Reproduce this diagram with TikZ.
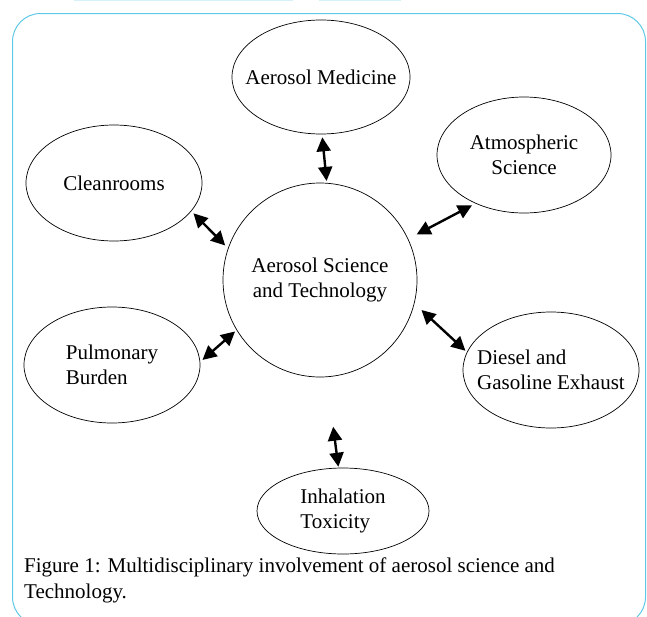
\documentclass[tikz,border=0pt]{standalone}
\usepackage{fontspec}
\setmainfont{Liberation Serif}
\usetikzlibrary{shapes.geometric,arrows.meta}
\definecolor{framec}{RGB}{95,200,230}
\begin{document}
\begin{tikzpicture}[x=1pt,y=-1pt,
  bub/.style={draw, ellipse, line width=0.7pt, inner xsep=-20pt, inner ysep=0pt, align=center,
    font=\fontsize{21}{25}\selectfont},
  dbl/.style={{Triangle[length=14pt,width=14pt]}-{Triangle[length=14pt,width=14pt]}, line width=2.4pt}]
\useasboundingbox (0,0) rectangle (647,616);
\draw[framec, line width=1pt, rounded corners=28pt] (12.5,13.5) rectangle (645.5,625);
\draw[framec!25, line width=1.5pt] (74,0.7) -- (293,0.7);
\draw[framec!25, line width=1.5pt] (319,0.7) -- (401,0.7);

\node[bub, circle, minimum size=194pt] (c) at (320,280) {Aerosol Science\\and Technology};
\node[bub, minimum width=178pt, minimum height=114pt] (med) at (321,77) {Aerosol Medicine};
\node[bub, minimum width=174pt, minimum height=116pt] (atm) at (524,155) {Atmospheric\\Science};
\node[bub, minimum width=176pt, minimum height=116pt] (cln) at (114,183) {Cleanrooms};
\node[bub, align=left, minimum width=176pt, minimum height=116pt] (pul) at (112,365) {Pulmonary\\Burden};
\node[bub, align=left, minimum width=176pt, minimum height=116pt] (dsl) at (551,370) {Diesel and\\Gasoline Exhaust};
\node[bub, align=left, minimum width=172pt, minimum height=86pt] (inh) at (343,511) {Inhalation\\Toxicity};

\draw[dbl, shorten <=3pt, shorten >=2pt] (med.-89) -- (c.86.5);
\draw[dbl, shorten <=4pt, shorten >=9.5pt] (atm.225) -- (c.25.6);
\draw[dbl, shorten <=3pt, shorten >=4pt] (cln.-20.8) -- (c.161.6);
\draw[dbl, shorten <=3pt, shorten >=2pt] (pul.2) -- (c.211);
\draw[dbl, shorten <=2pt, shorten >=9.5pt] (dsl.168.8) -- (c.-14.7);
\draw[dbl, shorten <=1pt, shorten >=50pt] (inh.96.5) -- (c.-86);

\node[anchor=base west, align=left, font=\fontsize{21}{26}\selectfont, inner sep=0pt] (cap) at (24,598)
  {Figure 1: Multidisciplinary involvement of aerosol science and\\Technology.};
\end{tikzpicture}
\end{document}
